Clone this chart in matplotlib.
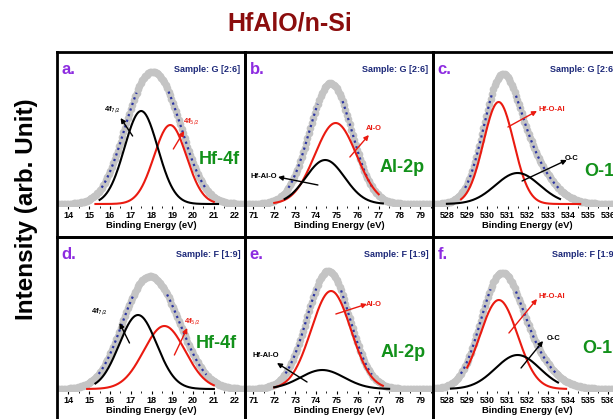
import matplotlib.pyplot as plt
import numpy as np

plt.rcParams['font.family'] = ['Liberation Sans', 'DejaVu Sans']

letters = ['a.', 'b.', 'c.', 'd.', 'e.', 'f.']
samples = ['Sample: G [2:6]'] * 3 + ['Sample: F [1:9]'] * 3
cores = ['Hf-4f', 'Al-2p', 'O-1s'] * 2
x_ranges = [(13.45, 22.45), (70.6, 79.6), (527.31, 536.62)] * 2
tick_lists = [list(range(14, 23)), list(range(71, 80)), list(range(528, 537))] * 2

# fitted components: centre (eV), height (arb.), width (eV), drawn span
red_names = ['4f$_{5/2}$', 'Al-O', 'Hf-O-Al', '4f$_{5/2}$', 'Al-O', 'Hf-O-Al']
red_center = [18.9, 74.94, 530.56, 18.62, 74.72, 530.57]
red_height = [79, 81, 102, 63, 98, 89]
red_sigma = [0.78, 1.0, 0.75, 1.0, 0.95, 0.93]
red_span = [(15.3, 21.0), (72.0, 77.0), (528.7, 534.6), (14.9, 21.0), (72.0, 77.2), (529.0, 533.9)]

black_names = ['4f$_{7/2}$', 'Hf-Al-O', 'O-C', '4f$_{7/2}$', 'Hf-Al-O', 'O-C']
black_center = [17.5, 74.44, 531.5, 17.35, 74.3, 531.5]
black_height = [93, 44, 31, 74, 19, 34]
black_sigma = [0.8, 0.93, 1.1, 0.9, 1.05, 1.1]
black_span = [(15.5, 21.2), (72.5, 77.2), (528.0, 533.6), (15.3, 21.0), (72.0, 77.5), (528.2, 533.5)]

# measured envelope, described by two broad peaks (centre, height, width)
env_peaks = [
    [(17.45, 88, 1.0), (18.8, 78, 1.0)],
    [(74.35, 60, 0.95), (75.0, 68, 0.95)],
    [(530.6, 95, 0.85), (531.7, 50, 1.2)],
    [(17.35, 72, 1.05), (18.7, 65, 1.1)],
    [(74.3, 34, 1.0), (74.7, 86, 1.0)],
    [(530.55, 85, 0.95), (531.6, 42, 1.25)],
]

# annotation positions (data coords)
red_text_xy = [(19.91, 82), (76.77, 75), (533.2, 94), (19.96, 67), (76.77, 85), (533.2, 93)]
red_tail = [(19.05, 55), (75.62, 47), (531.02, 77), (19.1, 34), (74.95, 75), (531.07, 56)]
red_head = [(19.57, 73), (76.53, 69), (532.46, 93), (19.72, 61), (76.44, 85), (532.46, 90)]
black_text_xy = [(16.13, 94), (71.51, 27), (534.19, 46), (15.51, 77), (71.6, 34), (533.3, 51)]
black_tail = [(17.09, 68), (74.09, 19), (531.72, 23), (16.94, 46), (73.57, 7), (531.67, 21)]
black_head = [(16.51, 86), (72.18, 27), (533.94, 44), (16.46, 66), (72.13, 26), (532.76, 48)]
core_xy = [(21.25, 44), (78.11, 36), (535.8, 32), (21.1, 46), (78.16, 37), (535.7, 41)]


def peak(x, c, h, s):
    return h * np.exp(-(x - c) ** 2 / (2 * s ** 2))


W, H = 613, 419
fig = plt.figure(figsize=(W / 100, H / 100), dpi=100)

col_left = [57, 245, 433]
box_w = 188
row_top = [52, 237]
row_base = [204, 389]
box_h = 185

for i in range(6):
    r, c = divmod(i, 3)
    x0 = col_left[c]
    # outer frame
    box = fig.add_axes([x0 / W, (H - row_top[r] - box_h) / H, box_w / W, box_h / H], zorder=3)
    box.patch.set_alpha(0)
    box.set_xticks([])
    box.set_yticks([])
    for sp in box.spines.values():
        sp.set_linewidth(2)

    # plotting area
    pad = 2
    ax = fig.add_axes([x0 / W, (H - row_base[r] - pad) / H, box_w / W,
                       (row_base[r] - row_top[r] + pad) / H], zorder=2)
    ax.patch.set_alpha(0)
    lo, hi = x_ranges[i]
    ax.set_xlim(lo, hi)
    ax.set_ylim(-pad, row_base[r] - row_top[r])
    for sp in ax.spines.values():
        sp.set_visible(False)
    ax.set_yticks([])
    ax.set_xticks(tick_lists[i])
    ax.set_xticks([t + 0.5 for t in tick_lists[i]], minor=True)
    ax.tick_params(axis='x', which='major', length=2.5, width=0.8, pad=1,
                   labelsize=6.5)
    ax.tick_params(axis='x', which='minor', length=1.3, width=0.6)
    for t in ax.get_xticklabels():
        t.set_fontweight('bold')
    ax.set_xlabel('Binding Energy (eV)', fontsize=6.8, fontweight='bold', labelpad=1)

    x = np.arange(lo - 0.3, hi + 0.3, 0.07)
    env = sum(peak(x, *p) for p in env_peaks[i])
    ax.plot(x, env, 'o', color='#c4c4c4', ms=5.5, mec='none', zorder=2)
    fit = np.where((env > 0.12 * env.max()) & (env < 0.86 * env.max()), env, np.nan)
    ax.plot(x, fit, ':', color='#2b34a3', lw=1.6, zorder=3)

    xr = np.linspace(*red_span[i], 200)
    ax.plot(xr, peak(xr, red_center[i], red_height[i], red_sigma[i]),
            color='#ea1a10', lw=1.5, zorder=4)
    xb = np.linspace(*black_span[i], 200)
    ax.plot(xb, peak(xb, black_center[i], black_height[i], black_sigma[i]),
            color='black', lw=1.5, zorder=4)

    ax.annotate('', xy=red_head[i], xytext=red_tail[i],
                arrowprops=dict(arrowstyle='-|>', color='#ea1a10', lw=1,
                                mutation_scale=7, shrinkA=0, shrinkB=0), zorder=5)
    ax.text(*red_text_xy[i], red_names[i], color='#ea1a10', fontsize=5.5,
            fontweight='bold', ha='center', va='center')
    ax.annotate('', xy=black_head[i], xytext=black_tail[i],
                arrowprops=dict(arrowstyle='-|>', color='black', lw=1,
                                mutation_scale=7, shrinkA=0, shrinkB=0), zorder=5)
    ax.text(*black_text_xy[i], black_names[i], color='black', fontsize=5.5,
            fontweight='bold', ha='center', va='center')

    ax.text(*core_xy[i], cores[i], color='#12911a', fontsize=13,
            fontweight='bold', ha='center', va='center')
    ax.text(0.025, 0.885, letters[i], transform=ax.transAxes, color='#8d2be0',
            fontsize=12, fontweight='bold', ha='left', va='center')
    ax.text(0.975, 0.885, samples[i], transform=ax.transAxes, color='#1e2a7a',
            fontsize=6.5, fontweight='bold', ha='right', va='center')

fig.text(0.473, 0.943, 'HfAlO/n-Si', color='#8b0d0d', fontsize=18,
         fontweight='bold', ha='center', va='center')
fig.text(0.044, 0.5, 'Intensity (arb. Unit)', rotation=90, fontsize=17.5,
         fontweight='bold', ha='center', va='center')

fig.savefig('out.png', dpi=100)
